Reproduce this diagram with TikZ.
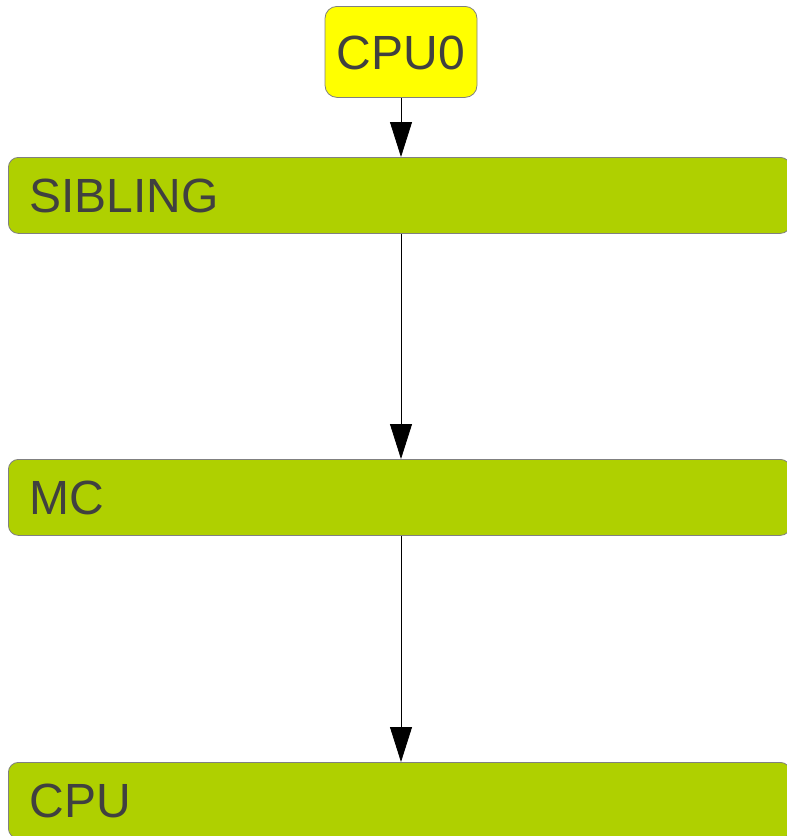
\documentclass[tikz,border=0pt]{standalone}
\usepackage{fontspec}
\setmainfont{Liberation Sans}
\usetikzlibrary{arrows.meta}
\definecolor{boxgreen}{RGB}{175,208,0}
\definecolor{rootyellow}{RGB}{255,255,0}
\definecolor{labelgray}{RGB}{64,64,64}
\definecolor{edgegray}{RGB}{128,128,128}
\begin{document}
\begin{tikzpicture}[x=1pt,y=-1pt,
  lvl/.style={draw=edgegray, line width=0.8pt, fill=boxgreen, rounded corners=10pt,
    anchor=north west, minimum height=76pt, text width=740pt, inner xsep=21pt,
    align=left, font=\fontsize{48}{48}\selectfont, text=labelgray,
    text height=35pt, text depth=0pt},
  root/.style={draw=edgegray, line width=0.8pt, fill=rootyellow, rounded corners=12pt,
    anchor=north, minimum width=152pt, minimum height=91pt, inner sep=0pt,
    font=\fontsize{48}{48}\selectfont, text=labelgray,
    text height=35pt, text depth=0pt},
  link/.style={-{Triangle[length=35pt,width=22pt]}, line width=0.8pt, black}]
\useasboundingbox (0,0) rectangle (787,836);
\clip (0,0) rectangle (787,836);

% topology levels
\node[root] (cpu0) at (401,6) {CPU0};
\node[lvl] (sibling) at (8,157) {SIBLING};
\node[lvl] (mc) at (8,459) {MC};
\node[lvl] (cpu) at (8,762) {CPU};

% parent-to-child links
\draw[link] (cpu0.south) -- (cpu0.south |- sibling.north);
\draw[link] (cpu0.south |- sibling.south) -- (cpu0.south |- mc.north);
\draw[link] (cpu0.south |- mc.south) -- (cpu0.south |- cpu.north);
\end{tikzpicture}
\end{document}
